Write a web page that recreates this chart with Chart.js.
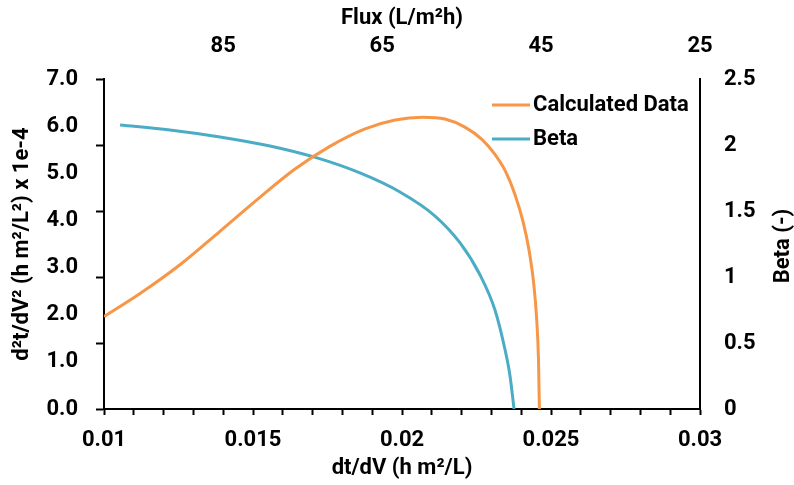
<!DOCTYPE html>
<html>
<head>
<meta charset="utf-8">
<script src="https://cdn.jsdelivr.net/npm/chart.js@4.4.0/dist/chart.umd.min.js"></script>
<style>
  html, body { margin: 0; padding: 0; background: #fff; }
  #wrap { width: 794px; height: 485px; }
</style>
</head>
<body>
<div id="wrap"><canvas id="chart"></canvas></div>
<script>
// calculated curve: dt/dV (h m2/L) against d2t/dV2 (x 1e-4)
const calcX = [0.01000, 0.01121, 0.01255, 0.01389, 0.01523, 0.01641, 0.01758, 0.01876, 0.01977, 0.02070,
               0.02144, 0.02211, 0.02268, 0.02312, 0.02349, 0.02379, 0.02406, 0.02426, 0.02442, 0.02452,
               0.02458, 0.02461];
const calcY = [1.96, 2.45, 3.06, 3.77, 4.49, 5.09, 5.57, 5.94, 6.13, 6.19,
               6.15, 5.98, 5.72, 5.40, 5.02, 4.55, 3.98, 3.38, 2.66, 1.90,
               1.05, 0.0];

// beta curve on the right axis
const betaX = [0.01054, 0.01221, 0.01389, 0.01557, 0.01715, 0.01859, 0.01993, 0.02111,
               0.02195, 0.02262, 0.02312, 0.02346, 0.02362, 0.02376];
const betaY = [2.152, 2.114, 2.061, 1.992, 1.902, 1.788, 1.644, 1.462,
               1.258, 1.015, 0.750, 0.447, 0.258, 0.0];

// axis ticks
const leftLabels = [0, 1, 2, 3, 4, 5, 6, 7];
const leftMarks = [0, 1.4, 2.8, 4.2, 5.6, 7];
const bottomLabels = [0.01, 0.015, 0.02, 0.025, 0.03];
const fluxTicks = [85, 65, 45, 25];
const betaTicks = [0, 0.5, 1, 1.5, 2, 2.5];

const ORANGE = 'rgb(247,150,70)';
const TEAL = 'rgb(75,172,198)';
const FONT = 'Roboto';
const bold = size => ({ family: FONT, size: size, weight: 'bold' });

function points(xs, ys) {
  return xs.map((x, i) => ({ x: x, y: ys[i] }));
}

// legend box inside the plot + the right axis title (reads bottom to top)
const extras = {
  id: 'extras',
  afterDraw(chart) {
    const ctx = chart.ctx;
    ctx.save();
    ctx.font = 'bold 22px ' + FONT;
    ctx.fillStyle = '#000';
    ctx.textBaseline = 'middle';
    chart.data.datasets.forEach((ds, i) => {
      const y = 105 + i * 34;
      ctx.strokeStyle = ds.borderColor;
      ctx.lineWidth = 3;
      ctx.beginPath();
      ctx.moveTo(492, y);
      ctx.lineTo(530, y);
      ctx.stroke();
      ctx.textAlign = 'left';
      ctx.fillText(ds.label, 533, y);
    });
    ctx.translate(783, 246);
    ctx.rotate(-Math.PI / 2);
    ctx.textAlign = 'center';
    ctx.fillText('Beta (-)', 0, 0);
    ctx.restore();
  }
};

new Chart(document.getElementById('chart'), {
  type: 'line',
  data: {
    datasets: [
      {
        label: 'Calculated Data',
        data: points(calcX, calcY),
        borderColor: ORANGE,
        borderWidth: 3,
        pointRadius: 0,
        cubicInterpolationMode: 'monotone',
        xAxisID: 'x',
        yAxisID: 'y'
      },
      {
        label: 'Beta',
        data: points(betaX, betaY),
        borderColor: TEAL,
        borderWidth: 3,
        pointRadius: 0,
        cubicInterpolationMode: 'monotone',
        xAxisID: 'x',
        yAxisID: 'y1'
      }
    ]
  },
  options: {
    responsive: true,
    maintainAspectRatio: false,
    animation: false,
    devicePixelRatio: 1,
    layout: { padding: 0 },
    plugins: { legend: { display: false }, tooltip: { enabled: false } },
    scales: {
      x: {
        type: 'linear',
        position: 'bottom',
        min: 0.01,
        max: 0.03,
        afterBuildTicks: s => {
          const t = [];
          for (let i = 10; i <= 30; i++) t.push({ value: i / 1000 });
          s.ticks = t;
        },
        afterFit: s => { s.height = 76; },
        ticks: {
          autoSkip: false,
          maxRotation: 0,
          padding: 12,
          color: '#000',
          font: bold(22),
          callback: v => bottomLabels.includes(v) ? String(v) : ''
        },
        grid: { drawOnChartArea: false, tickLength: 6, tickWidth: 2, tickColor: '#000' },
        border: { display: true, color: '#000', width: 2 },
        title: { display: true, text: 'dt/dV (h m²/L)', color: '#000', font: bold(22), padding: { top: 0, bottom: 3 } }
      },
      x2: {
        type: 'linear',
        position: 'top',
        min: 25,
        max: 100,
        reverse: true,
        afterBuildTicks: s => { s.ticks = fluxTicks.map(v => ({ value: v })); },
        afterFit: s => { s.height = 79; },
        ticks: { padding: 19, color: '#000', font: bold(22), maxRotation: 0 },
        grid: { display: false, drawTicks: false },
        border: { display: false },
        title: { display: true, text: 'Flux (L/m²h)', color: '#000', font: bold(22), padding: { top: 5, bottom: 0 } }
      },
      y: {
        type: 'linear',
        position: 'left',
        min: 0,
        max: 7,
        afterBuildTicks: s => {
          const vals = Array.from(new Set(leftLabels.concat(leftMarks))).sort((a, b) => a - b);
          s.ticks = vals.map(v => ({ value: v }));
        },
        afterFit: s => { s.width = 104; },
        ticks: {
          autoSkip: false,
          padding: 18,
          color: '#000',
          font: bold(22),
          callback: v => leftLabels.includes(v) ? v.toFixed(1) : ''
        },
        grid: {
          drawOnChartArea: false,
          tickLength: 8,
          tickWidth: 2,
          tickColor: c => leftMarks.includes(c.tick.value) ? '#000' : 'rgba(0,0,0,0)'
        },
        border: { display: true, color: '#000', width: 2 },
        title: { display: true, text: 'd²t/dV² (h m²/L²) x 1e-4', color: '#000', font: bold(22), padding: { top: 9, bottom: 0 } }
      },
      y1: {
        type: 'linear',
        position: 'right',
        min: 0,
        max: 2.5,
        afterBuildTicks: s => { s.ticks = betaTicks.map(v => ({ value: v })); },
        afterFit: s => { s.width = 94; },
        ticks: { padding: 24, color: '#000', font: bold(22), callback: v => String(v) },
        grid: { drawOnChartArea: false, drawTicks: false },
        border: { display: true, color: '#000', width: 2 }
      }
    }
  },
  plugins: [extras]
});
</script>
</body>
</html>
